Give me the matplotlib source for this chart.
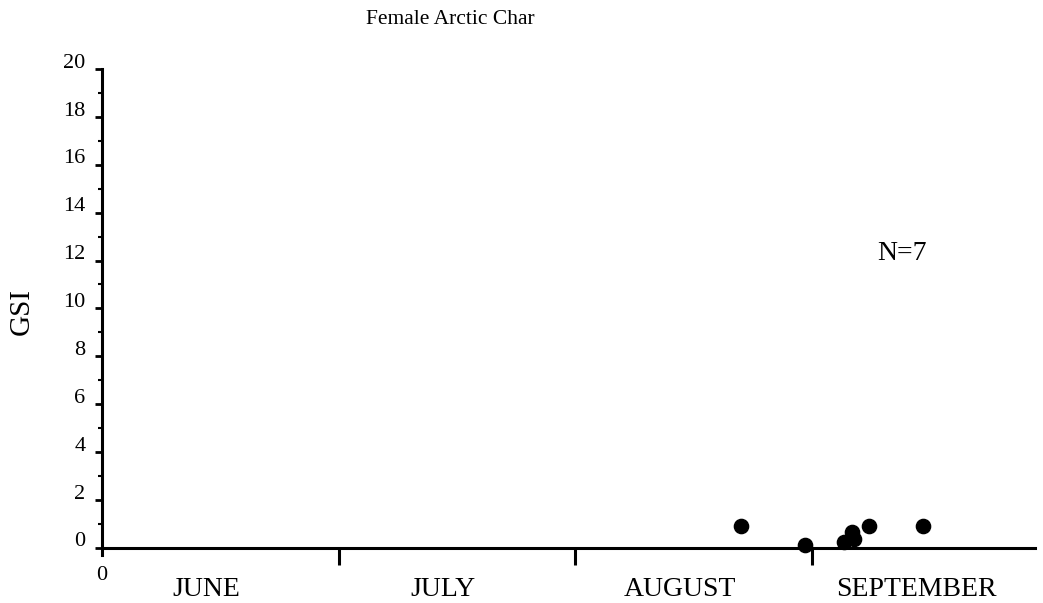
import matplotlib
matplotlib.use("Agg")
import matplotlib.pyplot as plt
import matplotlib.transforms as mtransforms
from matplotlib.ticker import MultipleLocator

# Sampling position, in months after 1 June, and gonadosomatic index
sample_month = [2.70, 2.97, 3.135, 3.17, 3.175, 3.24, 3.47]
gsi_values = [0.90, 0.13, 0.26, 0.68, 0.38, 0.92, 0.92]
month_names = ["JUNE", "JULY", "AUGUST", "SEPTEMBER"]
y_ticks = list(range(0, 21, 2))
title_text = "Female Arctic Char"
n_text = "N=7"

plt.rcParams["font.family"] = ["Liberation Serif", "DejaVu Serif"]

fig = plt.figure(figsize=(10.43, 6.03), dpi=100)
ax = fig.add_axes([0.0978, 0.0796, 0.8942, 0.806])

ax.scatter(sample_month, gsi_values, s=105, color="black", zorder=5,
           clip_on=False)

ax.set_xlim(0, 3.94)
ax.set_ylim(-0.3, 20)

for side in ("top", "right"):
    ax.spines[side].set_visible(False)
ax.spines["bottom"].set_position(("data", 0))
ax.spines["bottom"].set_linewidth(2.2)
ax.spines["left"].set_linewidth(2.2)

# y axis: labelled ticks every 2, small ticks at odd values
ax.set_yticks(y_ticks)
ax.set_yticklabels([str(v) for v in y_ticks])
ax.yaxis.set_minor_locator(MultipleLocator(1))
ax.tick_params(axis="y", which="major", direction="out", length=5, width=2,
               labelsize=16, pad=7)
ax.tick_params(axis="y", which="minor", direction="out", length=3, width=1.5)
shift = mtransforms.ScaledTranslation(0, 6 / 72, fig.dpi_scale_trans)
for lab in ax.get_yticklabels():
    lab.set_transform(lab.get_transform() + shift)

# x axis: month boundaries marked by long ticks pointing down
ax.set_xticks([1, 2, 3])
ax.set_xticklabels([])
ax.tick_params(axis="x", which="major", direction="out", length=12, width=2.2)

ax.text(0, -0.75, "0", ha="center", va="top", fontsize=16)
for i, name in enumerate(month_names):
    ax.text(i + 0.44, -1.2, name, ha="center", va="top", fontsize=20)

ax.set_ylabel("GSI", fontsize=21)
ax.yaxis.set_label_coords(-0.072, 0.5)

fig.text(0.432, 0.967, title_text, ha="center", va="center", fontsize=15.5)
ax.text(3.38, 12.3, n_text, ha="center", va="center", fontsize=20)

fig.savefig("out.png", dpi=100)
